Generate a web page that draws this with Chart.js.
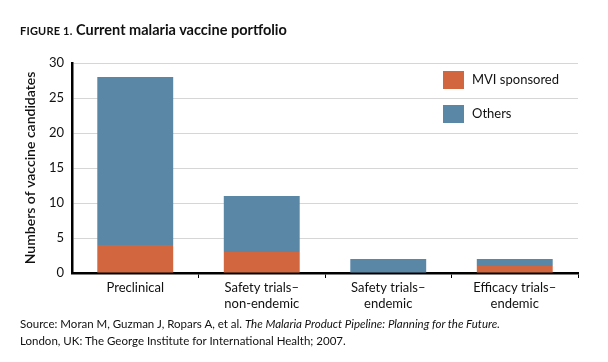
<!DOCTYPE html>
<html>
<head>
<meta charset="utf-8">
<script src="https://cdn.jsdelivr.net/npm/chart.js@4"></script>
<style>
  html, body { margin: 0; padding: 0; background: #fff; }
  body { width: 608px; height: 362px; position: relative; overflow: hidden; font-family: Lato, "Open Sans", sans-serif; color: #111; }
  #wrap { position: absolute; left: 0; top: 0; width: 608px; height: 362px; }
  #title { position: absolute; left: 20px; top: 21px; font-weight: bold; font-size: 14.5px; white-space: nowrap; }
  #title .fig { font-size: 11px; letter-spacing: 0.2px; }
  #source { position: absolute; left: 20px; top: 315px; font-size: 11.5px; line-height: 17px; white-space: nowrap; }
</style>
</head>
<body>
<div id="wrap"><canvas id="chart"></canvas></div>
<div id="title"><span class="fig">FIGURE 1.</span> Current malaria vaccine portfolio</div>
<div id="source">Source: Moran M, Guzman J, Ropars A, et al. <i>The Malaria Product Pipeline: Planning for the Future.</i><br>London, UK: The George Institute for International Health; 2007.</div>
<script>
// данные графика
const categories = [["Preclinical"], ["Safety trials–", "non-endemic"], ["Safety trials–", "endemic"], ["Efficacy trials–", "endemic"]];
const mviSponsored = [4, 3, 0, 1];
const others = [24, 8, 2, 1];
const yTicks = [0, 5, 10, 15, 20, 25, 30];

const orange = "#d1663f";
const blue = "#5b87a7";
const fontFamily = "Lato, 'Open Sans', sans-serif";

// легенда внутри области графика
const boxLegend = {
  id: "boxLegend",
  afterDraw(chart) {
    const ctx = chart.ctx;
    const area = chart.chartArea;
    const x = area.right - 135;
    ctx.save();
    ctx.font = "13px " + fontFamily;
    ctx.textBaseline = "middle";
    chart.data.datasets.forEach((ds, i) => {
      const y = area.top + 8 + i * 34;
      ctx.fillStyle = ds.backgroundColor;
      ctx.fillRect(x, y, 21, 18);
      ctx.fillStyle = "#111";
      ctx.fillText(ds.label, x + 29, y + 9);
    });
    ctx.restore();
  }
};

new Chart(document.getElementById("chart"), {
  type: "bar",
  data: {
    labels: categories,
    datasets: [
      { label: "MVI sponsored", data: mviSponsored, backgroundColor: orange },
      { label: "Others", data: others, backgroundColor: blue }
    ]
  },
  options: {
    responsive: true,
    maintainAspectRatio: false,
    animation: false,
    layout: { padding: { left: 0, right: 30, top: 63, bottom: 0 } },
    plugins: { legend: { display: false }, tooltip: { enabled: false } },
    datasets: { bar: { categoryPercentage: 1, barPercentage: 0.6 } },
    scales: {
      x: {
        stacked: true,
        afterFit(scale) { scale.height = 89; },
        border: { color: "#000", width: 2.5 },
        grid: {
          drawOnChartArea: false,
          drawTicks: true,
          tickLength: 5,
          color: ctx => (ctx.index === 0 || ctx.index === categories.length) ? "rgba(0,0,0,0)" : "#000"
        },
        ticks: { color: "#111", padding: 2, font: { family: fontFamily, size: 13 } }
      },
      y: {
        stacked: true,
        min: 0,
        max: 30,
        afterFit(scale) { scale.width = 72; },
        afterBuildTicks(scale) { scale.ticks = yTicks.map(v => ({ value: v })); },
        border: { color: "#000", width: 2.5 },
        grid: { color: "#d6d6d6", drawTicks: false },
        ticks: { color: "#111", padding: 8, font: { family: fontFamily, size: 13 } },
        title: {
          display: true,
          text: "Numbers of vaccine candidates",
          color: "#111",
          padding: { top: 22, bottom: 0 },
          font: { family: fontFamily, size: 14, weight: "600" }
        }
      }
    }
  },
  plugins: [boxLegend]
});
</script>
</body>
</html>
